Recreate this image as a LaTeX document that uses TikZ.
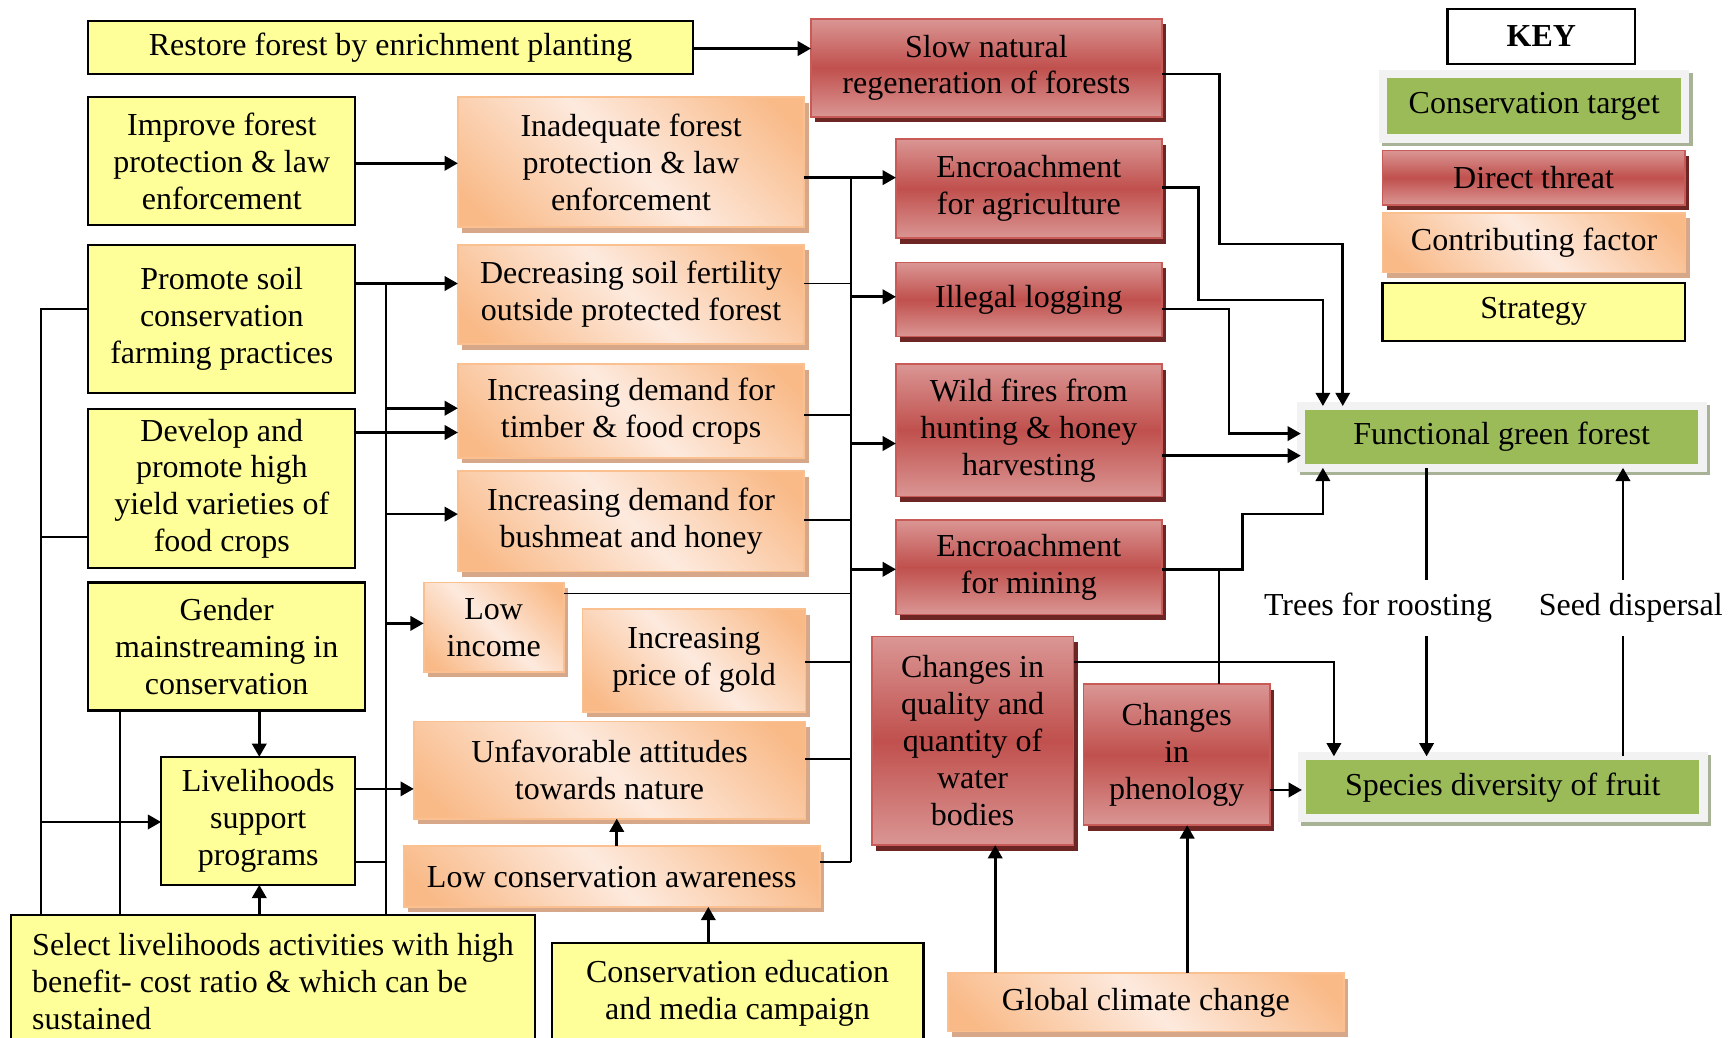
\documentclass[tikz,border=0pt]{standalone}
\usepackage{fontspec}
\setmainfont{Liberation Serif}
\usepackage{tikz}
\usetikzlibrary{arrows.meta,shadows}

\definecolor{stratfill}{RGB}{255,255,153}
\definecolor{targetfill}{RGB}{155,187,89}
\definecolor{targetframe}{RGB}{242,242,242}
\definecolor{targetshade}{RGB}{168,178,150}
\definecolor{threatpale}{RGB}{218,150,148}
\definecolor{threatdeep}{RGB}{192,80,77}
\definecolor{threatline}{RGB}{200,90,87}
\definecolor{threatshade}{RGB}{110,38,36}
\definecolor{factorpale}{RGB}{253,234,222}
\definecolor{factordeep}{RGB}{249,186,136}
\definecolor{factorline}{RGB}{250,192,144}
\definecolor{factorshade}{RGB}{214,168,137}

\pgfdeclarehorizontalshading{factorshading}{100bp}{color(0bp)=(factordeep); color(20bp)=(factordeep); color(50bp)=(factorpale); color(80bp)=(factordeep); color(100bp)=(factordeep)}

\tikzset{
  strat/.style={draw=black, line width=1pt, fill=stratfill, align=center, inner sep=2pt, outer sep=0pt},
  factor/.style={draw=factorline, line width=0.8pt, shade, shading=factorshading, shading angle=45, align=center, inner sep=2pt, outer sep=0pt, general shadow={fill=factorshade, shadow xshift=2pt, shadow yshift=-2.5pt}},
  threat/.style={draw=threatline, line width=0.8pt, top color=threatpale, bottom color=threatpale, middle color=threatdeep, align=center, inner sep=2pt, outer sep=0pt, general shadow={fill=threatshade, shadow xshift=2pt, shadow yshift=-2.5pt}},
  target/.style={draw=targetframe, line width=3.75pt, fill=targetfill, align=center, inner sep=2pt, outer sep=0pt, general shadow={draw=targetshade, fill=targetshade, line width=3.75pt, shadow xshift=1.5pt, shadow yshift=-1.5pt}},
  arr/.style={line width=1.2pt, -{Triangle[length=6pt,width=6.5pt]}},
  wire/.style={line width=0.8pt},
  lbl/.style={fill=white, inner xsep=2pt, inner ysep=6pt},
}

\begin{document}
\begin{tikzpicture}[x=0.5pt,y=0.5pt,yscale=-1,xscale=1,font=\fontsize{14.5}{16.75}\selectfont]
\useasboundingbox (0,0) rectangle (1568,940);

% Strategies
\node[strat, minimum width=274pt, minimum height=24pt] (restore) at (354,43) {Restore forest by enrichment planting};
\node[strat, minimum width=121pt, minimum height=58pt] (improve) at (201,146) {Improve forest\\protection \& law\\enforcement};
\node[strat, minimum width=121pt, minimum height=67pt] (promote) at (201,289) {Promote soil\\conservation\\farming practices};
\node[strat, minimum width=121pt, minimum height=72pt] (develop) at (201,443) {Develop and\\promote high\\yield varieties of\\food crops};
\node[strat, minimum width=125.5pt, minimum height=58pt] (gender) at (205.5,586) {Gender\\mainstreaming in\\conservation};
\node[strat, minimum width=88pt, minimum height=58pt] (liveli) at (234,744) {Livelihoods\\support\\programs};
\node[strat, minimum width=237.5pt, minimum height=61pt, align=left] (select) at (247.5,890) {Select livelihoods activities with high\\benefit- cost ratio \& which can be\\sustained};
\node[strat, minimum width=168.5pt, minimum height=45pt] (educ) at (668.5,900) {Conservation education\\and media campaign};

% Contributing factors
\node[factor, minimum width=157pt, minimum height=59pt] (inadeq) at (572,147) {Inadequate forest\\protection \& law\\enforcement};
\node[factor, minimum width=157pt, minimum height=45pt] (soil) at (572,267) {Decreasing soil fertility\\outside protected forest};
\node[factor, minimum width=157pt, minimum height=42.5pt] (timber) at (572,372.5) {Increasing demand for\\timber \& food crops};
\node[factor, minimum width=157pt, minimum height=45.5pt] (bush) at (572,472.5) {Increasing demand for\\bushmeat and honey};
\node[factor, minimum width=63.5pt, minimum height=40.5pt] (income) at (447.5,568.5) {Low\\income};
\node[factor, minimum width=101pt, minimum height=46.5pt] (gold) at (629,598.5) {Increasing\\price of gold};
\node[factor, minimum width=177.5pt, minimum height=44pt] (attit) at (552.5,698) {Unfavorable attitudes\\towards nature};
\node[factor, minimum width=188.5pt, minimum height=27.5pt] (aware) at (554.5,794.5) {Low conservation awareness};
\node[factor, minimum width=179.5pt, minimum height=26.5pt] (climate) at (1038.5,908.5) {Global climate change};

% Direct threats
\node[threat, minimum width=159pt, minimum height=44.5pt] (slow) at (894,61.5) {Slow natural\\regeneration of forests};
\node[threat, minimum width=120.5pt, minimum height=45pt] (agri) at (932.5,171) {Encroachment\\for agriculture};
\node[threat, minimum width=120.5pt, minimum height=33.5pt] (logging) at (932.5,271.5) {Illegal logging};
\node[threat, minimum width=120.5pt, minimum height=60pt] (fires) at (932.5,390) {Wild fires from\\hunting \& honey\\harvesting};
\node[threat, minimum width=120.5pt, minimum height=43pt] (mining) at (932.5,514) {Encroachment\\for mining};
\node[threat, minimum width=91.5pt, minimum height=94.5pt] (water) at (881.5,671.5) {Changes in\\quality and\\quantity of\\water\\bodies};
\node[threat, minimum width=84.5pt, minimum height=64pt] (phenol) at (1066.5,684) {Changes\\in\\phenology};

% Conservation targets
\node[target, minimum width=182pt, minimum height=28pt] (forest) at (1361,396) {Functional green forest};
\node[target, minimum width=182pt, minimum height=28pt] (species) at (1362,713.5) {Species diversity of fruit};

% Key
\node[strat, fill=white, minimum width=85pt, minimum height=24.75pt] (keyhead) at (1397,33) {\textbf{KEY}};
\node[target, minimum width=136.75pt, minimum height=29.25pt] (ktarget) at (1390.5,96.4) {Conservation target};
\node[threat, minimum width=137pt, minimum height=24.6pt] (kthreat) at (1390,161) {Direct threat};
\node[factor, minimum width=137.3pt, minimum height=27pt] (kfactor) at (1390.4,220) {Contributing factor};
\node[strat, minimum width=137pt, minimum height=26.4pt] (kstrat) at (1390,282.6) {Strategy};

% strategies to factors
\draw[arr] (restore.east |- 0,44) -- (slow.west |- 0,44);
\draw[arr] (improve.east |- 0,148) -- (inadeq.west |- 0,148);
\draw[wire] (promote.west |- 0,280) -| (select.north -| 37,0);
\draw[wire] (develop.west |- 0,487) -- (37,487);
\draw[arr] (37,745) -- (liveli.west |- 0,745);
\draw[wire] (gender.south -| 109,0) -- (select.north -| 109,0);
\draw[arr] (gender.south -| 235,0) -- (liveli.north -| 235,0);
\draw[arr] (select.north -| 235,0) -- (liveli.south -| 235,0);
\draw[arr] (promote.east |- 0,257) -- (soil.west |- 0,257);
\draw[wire] (350,257) -- (select.north -| 350,0);
\draw[arr] (350,370) -- (timber.west |- 0,370);
\draw[arr] (develop.east |- 0,392) -- (timber.west |- 0,392);
\draw[arr] (350,466) -- (bush.west |- 0,466);
\draw[arr] (350,565) -- (income.west |- 0,565);
\draw[wire] (liveli.east |- 0,781) -- (350,781);
\draw[arr] (liveli.east |- 0,715) -- (attit.west |- 0,715);
\draw[arr] (aware.north -| 559,0) -- (attit.south -| 559,0);
\draw[arr] (educ.north -| 642,0) -- (aware.south -| 642,0);

% factors to threats
\draw[arr] (inadeq.east |- 0,161) -- (agri.west |- 0,161);
\draw[wire] (771,161) -- (771,781);
\draw[wire] (soil.east |- 0,257) -- (771,257);
\draw[wire] (timber.east |- 0,376) -- (771,376);
\draw[wire] (bush.east |- 0,471) -- (771,471);
\draw[wire] (income.east |- 0,538) -- (771,538);
\draw[wire] (gold.east |- 0,600) -- (771,600);
\draw[wire] (attit.east |- 0,688) -- (771,688);
\draw[wire] (aware.east |- 0,781) -- (771,781);
\draw[arr] (771,269) -- (logging.west |- 0,269);
\draw[arr] (771,402) -- (fires.west |- 0,402);
\draw[arr] (771,516) -- (mining.west |- 0,516);

% threats to targets
\draw[arr] (slow.east |- 0,67) -| (1105,221) -| (forest.north -| 1217,0);
\draw[arr] (agri.east |- 0,170) -| (1086,272) -| (forest.north -| 1199,0);
\draw[arr] (logging.east |- 0,280) -| (1114,393) -- (forest.west |- 0,393);
\draw[arr] (fires.east |- 0,413) -- (forest.west |- 0,413);
\draw[arr] (mining.east |- 0,516) -| (1126,466) -| (forest.south -| 1199,0);
\draw[wire] (1105,516) -- (phenol.north -| 1105,0);
\draw[arr] (water.east |- 0,600) -| (species.north -| 1209,0);
\draw[arr] (phenol.east |- 0,716) -- (species.west |- 0,716);
\draw[arr] (climate.north -| 902,0) -- (water.south -| 902,0);
\draw[arr] (climate.north -| 1076,0) -- (phenol.south -| 1076,0);

% target links
\draw[arr] (forest.south -| 1293,0) -- (species.north -| 1293,0);
\draw[arr] (species.north -| 1471,0) -- (forest.south -| 1471,0);
\node[lbl] (roost) at (1249,551) {Trees for roosting};
\node[lbl] (seed) at (1478,551) {Seed dispersal};

\end{tikzpicture}
\end{document}
